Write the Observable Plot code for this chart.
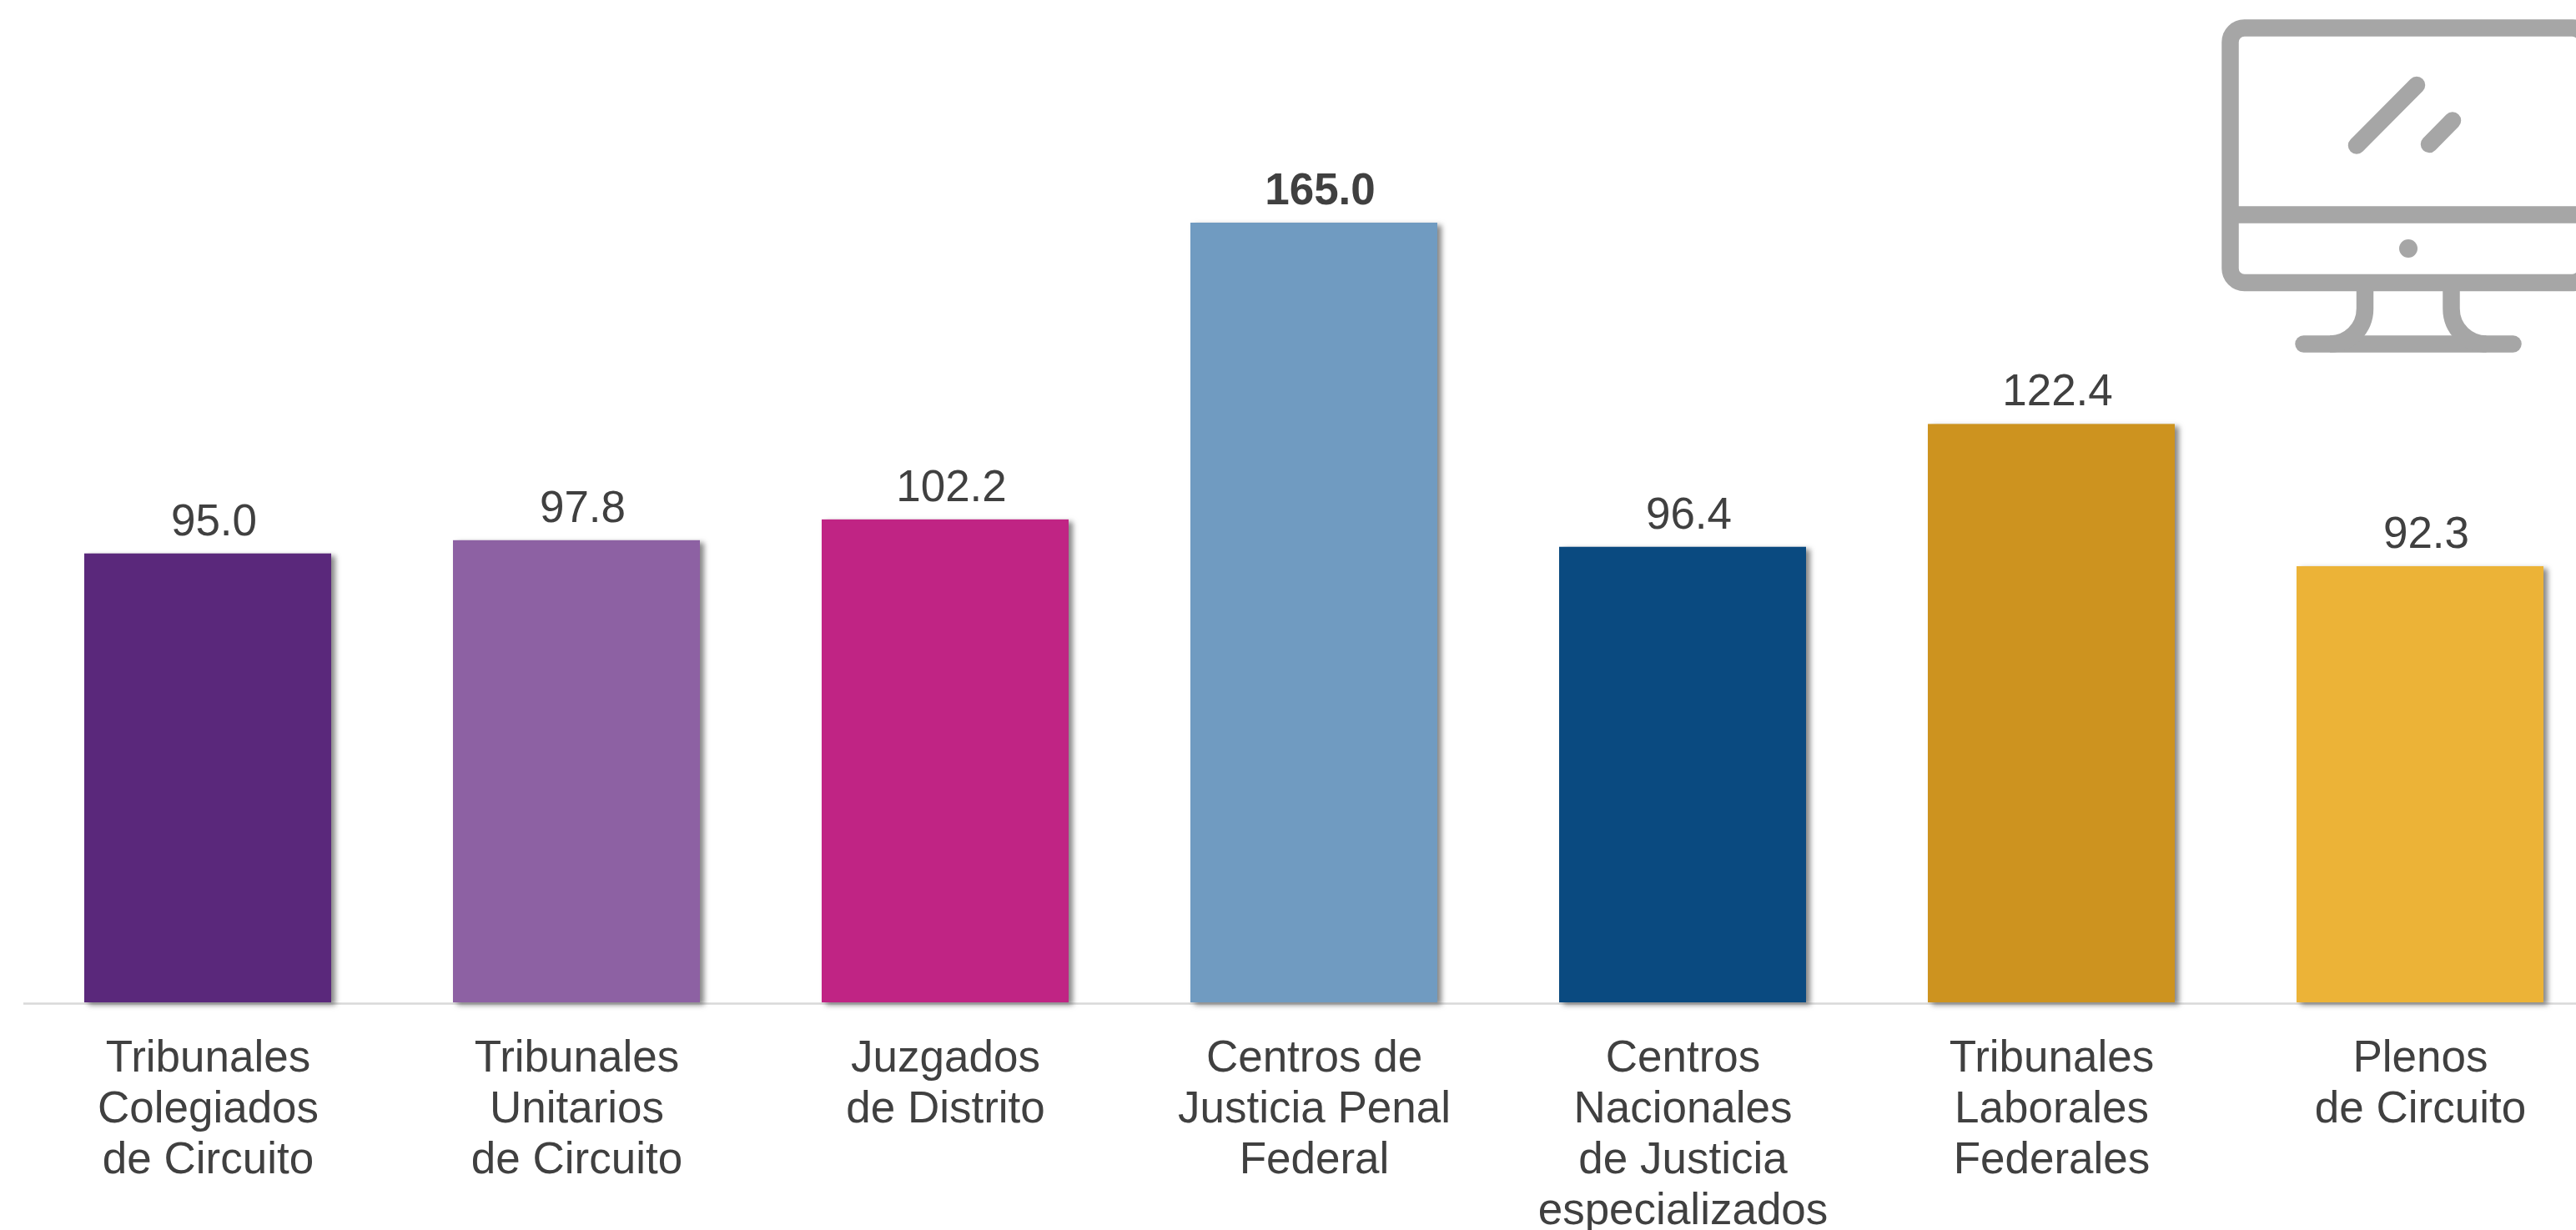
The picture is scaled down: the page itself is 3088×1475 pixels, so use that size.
<!DOCTYPE html>
<html lang="es">
<head>
<meta charset="utf-8">
<title>Tribunales</title>
<script src="https://cdn.jsdelivr.net/npm/d3@7"></script>
<script src="https://cdn.jsdelivr.net/npm/@observablehq/plot@0.6"></script>
<style>
  html, body { margin: 0; padding: 0; background: #fff; overflow: hidden; }
  #wrap { position: relative; width: 3088px; height: 1475px; overflow: hidden; }
  #wrap > svg { display: block; }
  #icon { position: absolute; left: 0; top: 0; }
  g[aria-label="bar"] rect { filter: drop-shadow(5px 3px 3px rgba(70,70,70,.65)); }
</style>
</head>
<body>
<div id="wrap"></div>
<script>
const categories = [
  "Tribunales\nColegiados\nde Circuito",
  "Tribunales\nUnitarios\nde Circuito",
  "Juzgados\nde Distrito",
  "Centros de\nJusticia Penal\nFederal",
  "Centros\nNacionales\nde Justicia\nespecializados",
  "Tribunales\nLaborales\nFederales",
  "Plenos\nde Circuito"
];
const values = [95.0, 97.8, 102.2, 165.0, 96.4, 122.4, 92.3];
const colors = ["#5a287b", "#8d61a3", "#c02484", "#709bc1", "#0a4a80", "#cd931f", "#ecb337"];
const boldValue = 165.0;

const rows = categories.map((category, i) => ({category, value: values[i]}));
const fontFamily = "'Liberation Sans', Arial, sans-serif";
const textColor = "#404040";

const labelOptions = {
  x: "category", y: "value", text: d => d.value.toFixed(1),
  dx: 7, dy: -22.5, lineAnchor: "bottom", fontSize: 53, fill: textColor
};

const chart = Plot.plot({
  width: 3088,
  height: 1475,
  marginTop: 267,
  marginBottom: 273,
  marginLeft: 28,
  marginRight: 0,
  style: {fontFamily, background: "#fff"},
  x: {domain: categories, range: [27.5, 3123], paddingInner: 0.331, paddingOuter: 0.1655, align: 0.5, axis: null},
  y: {domain: [0, 165], axis: null},
  color: {domain: categories, range: colors},
  marks: [
    Plot.ruleY([0], {stroke: "#d9d9d9", strokeWidth: 2.5, dy: 1}),
    Plot.barY(rows, {x: "category", y: "value", fill: "category"}),
    Plot.text(rows.filter(d => d.value !== boldValue), labelOptions),
    Plot.text(rows.filter(d => d.value === boldValue), {...labelOptions, fontWeight: "bold"}),
    Plot.axisX({
      anchor: "bottom", tickSize: 0, tickPadding: 39, fontSize: 53,
      lineHeight: 1.15, fill: textColor, label: null
    })
  ]
});
document.getElementById("wrap").appendChild(chart);

// Decorative monitor pictogram in the top right corner (not data).
const ns = "http://www.w3.org/2000/svg";
const icon = document.createElementNS(ns, "svg");
icon.setAttribute("id", "icon");
icon.setAttribute("width", 3088);
icon.setAttribute("height", 1475);
icon.setAttribute("viewBox", "0 0 3088 1475");
icon.innerHTML = `
<g fill="none" stroke="#a6a6a6" stroke-width="20.5" stroke-linecap="round">
  <rect x="2673.5" y="33.5" width="427" height="305.5" rx="17"/>
  <path d="M2673.5 257.5H3100" stroke-linecap="butt"/>
  <path d="M2897 102L2825 174.5"/>
  <path d="M2940 144.5L2912 173"/>
  <path d="M2761.5 412.5H3012.5"/>
  <path d="M2835 345V370C2835 395 2815 412.5 2793 412.5" stroke-linecap="butt"/>
  <path d="M2938.5 345V370C2938.5 395 2958.5 412.5 2980.5 412.5" stroke-linecap="butt"/>
</g>
<circle cx="2887" cy="298" r="11" fill="#a6a6a6"/>`;
document.getElementById("wrap").appendChild(icon);
</script>
</body>
</html>
